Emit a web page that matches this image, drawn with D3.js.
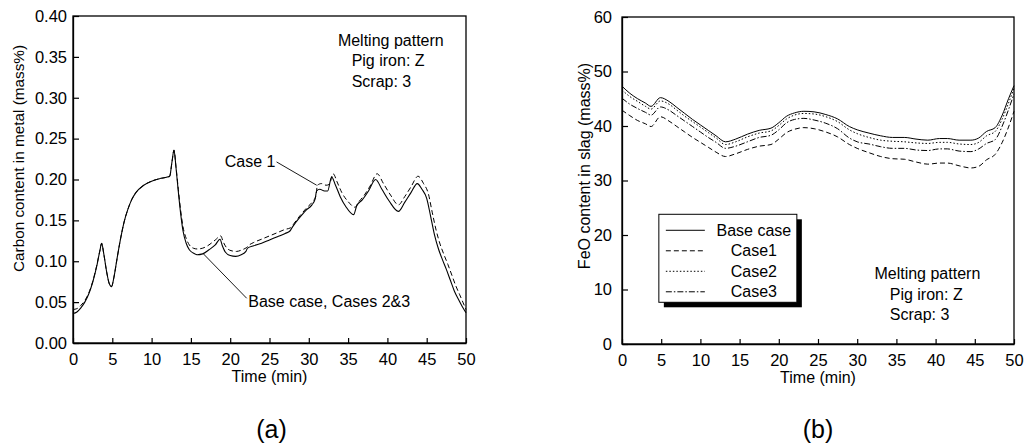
<!DOCTYPE html>
<html>
<head>
<meta charset="utf-8">
<script src="https://cdn.jsdelivr.net/npm/d3@7"></script>
<style>
  body { margin: 0; background: #fff; }
  svg text { font-family: "Liberation Sans", Arial, sans-serif; fill: #000; }
</style>
</head>
<body>
<div class="chart"></div>
<script>
// ---- panel (a): carbon content in metal ----
var timeBase = [0,0.5,1,1.5,2,2.5,3,3.4,3.65,3.9,
  4.3,4.6,4.9,5.2,5.6,6,6.5,7,7.5,8,
  9,10,11,12,12.3,12.6,12.85,13.1,13.4,13.7,
  14,14.4,14.8,15.3,15.8,16.5,17.3,18.1,18.7,19.0,
  19.4,20.0,20.7,21.4,22.0,22.2,23.0,24.0,25.0,26.0,
  27.0,27.6,28.0,28.8,29.6,30.4,30.8,31.0,31.4,32.0,
  32.4,32.9,33.4,34.0,34.7,35.7,36.1,36.8,37.6,38.5,
  39.3,40.2,41.4,42.2,43.0,43.8,44.4,45.0,45.5,46.0,
  46.5,47,47.5,48,48.5,49,49.5,50];
var carbonBase = [0.036,0.038,0.043,0.050,0.060,0.074,0.093,0.112,0.122,0.110,
  0.086,0.073,0.069,0.080,0.103,0.125,0.148,0.164,0.176,0.184,
  0.193,0.198,0.201,0.203,0.204,0.222,0.236,0.215,0.185,0.158,
  0.137,0.122,0.114,0.110,0.108,0.109,0.114,0.120,0.127,0.119,
  0.111,0.107,0.106,0.108,0.112,0.116,0.119,0.122,0.126,0.130,
  0.134,0.137,0.143,0.153,0.162,0.169,0.176,0.186,0.188,0.186,
  0.186,0.203,0.193,0.179,0.167,0.157,0.168,0.175,0.186,0.200,
  0.188,0.174,0.161,0.172,0.184,0.195,0.188,0.177,0.155,0.132,
  0.115,0.102,0.090,0.077,0.064,0.054,0.045,0.037];

var timeCase1 = [0,0.5,1,1.5,2,2.5,3,3.4,3.65,3.9,
  4.3,4.6,4.9,5.2,5.6,6,6.5,7,7.5,8,
  9,10,11,12,12.3,12.6,12.85,13.1,13.4,13.7,
  14,14.4,14.8,15.3,15.8,16.5,17.3,18.1,18.8,19.1,
  19.5,20.1,20.8,21.5,22.1,22.3,23.0,24.0,25.0,26.0,
  27.0,27.7,28.1,28.9,29.7,30.4,30.9,31.1,31.6,32.2,
  32.6,33.1,33.6,34.2,35.0,35.9,36.3,37.0,37.8,38.7,
  39.5,40.4,41.4,42.2,43.0,43.9,44.6,45.2,45.7,46.2,
  46.7,47.2,47.7,48.2,48.7,49.2,49.6,50.0];
var carbonCase1 = [0.041,0.042,0.046,0.052,0.061,0.075,0.094,0.112,0.122,0.110,
  0.086,0.073,0.069,0.080,0.103,0.125,0.148,0.164,0.176,0.184,
  0.193,0.198,0.201,0.203,0.204,0.222,0.236,0.216,0.188,0.162,
  0.142,0.128,0.120,0.116,0.115,0.116,0.120,0.126,0.131,0.124,
  0.117,0.113,0.112,0.114,0.117,0.119,0.123,0.127,0.131,0.135,
  0.139,0.141,0.146,0.156,0.165,0.172,0.180,0.193,0.195,0.193,
  0.194,0.207,0.197,0.184,0.173,0.166,0.172,0.180,0.192,0.207,
  0.195,0.181,0.169,0.179,0.191,0.204,0.195,0.183,0.160,0.138,
  0.121,0.108,0.096,0.083,0.070,0.059,0.050,0.041];

var carbonTicks = [0,0.05,0.10,0.15,0.20,0.25,0.30,0.35,0.40];

// ---- panel (b): FeO content in slag ----
var timeSlag = [0,1,2,3,3.7,4.9,6,7,8,9,
  10,11,12,13.2,14.5,16,17.5,19,20,21,
  22,23.2,24.5,26,27.5,29,30,31.5,33,34.5,
  36,37.5,39,40.5,41.5,43,44.5,45.5,46.5,47.6,
  48.5,49.3,50];
var feoBase = [47.3,46.0,45.0,44.2,43.6,45.2,44.5,43.4,42.3,41.2,
  40.2,39.2,38.2,37.1,37.6,38.5,39.2,39.6,40.6,41.8,
  42.4,42.7,42.6,42.1,41.3,39.9,39.3,38.7,38.2,37.9,
  37.9,37.6,37.4,37.7,37.7,37.4,37.4,37.8,39.0,39.7,
  42.0,45.0,47.4];
var feoCase1 = [42.9,41.9,41.0,40.4,39.9,41.7,40.9,39.9,38.9,37.9,
  37.0,36.1,35.2,34.4,34.9,35.7,36.3,36.6,37.6,38.8,
  39.4,39.7,39.5,38.9,38.0,36.6,35.9,35.1,34.4,34.0,
  33.9,33.4,33.0,33.2,33.2,32.7,32.3,32.6,33.8,34.8,
  37.0,39.8,42.7];
var feoCase2 = [46.6,45.4,44.5,43.6,43.1,44.6,44.0,42.9,41.8,40.8,
  39.8,38.8,37.8,36.6,37.1,38.0,38.7,39.1,40.1,41.3,
  42.0,42.3,42.2,41.7,40.8,39.3,38.6,37.9,37.4,37.2,
  37.1,36.9,36.8,37.0,37.0,36.7,36.6,37.0,38.2,39.0,
  41.3,44.2,46.9];
var feoCase3 = [45.1,44.0,43.2,42.5,42.0,43.5,42.9,41.9,40.9,39.9,
  38.9,37.9,37.0,35.9,36.3,37.1,37.9,38.3,39.3,40.6,
  41.2,41.4,41.1,40.5,39.5,37.8,37.1,36.7,36.2,35.9,
  35.9,35.6,35.5,35.8,35.8,35.4,35.3,35.8,36.8,37.5,
  40.0,43.0,45.9];

var feoTicks = [0,10,20,30,40,50,60];
var timeTicks = [0,5,10,15,20,25,30,35,40,45,50];

var legendNames = ["Base case", "Case1", "Case2", "Case3"];
var noteLines = ["Melting pattern", "Pig iron: Z", "Scrap: 3"];

var dashes = {
  solid: null,
  dashed: "5,3",
  dotted: "1.5,2",
  dashdot: "6,2,1.5,2"
};

var fs = "16px",
    tickFs = "16.5px";

var svg = d3.select(".chart").append("svg")
  .attr("width", 1024)
  .attr("height", 446);

var line = function(x, y) {
  return d3.line()
    .x(function(d) { return x(d[0]); })
    .y(function(d) { return y(d[1]); })
    .curve(d3.curveMonotoneX);
};

function drawFrame(g, x, y, yTicks, yFmt, yPad, w, h) {
  g.append("rect")
    .attr("width", w).attr("height", h)
    .attr("fill", "none").attr("stroke", "#000").attr("stroke-width", 1.3);

  var xa = g.append("g")
    .attr("transform", "translate(0," + h + ")")
    .call(d3.axisBottom(x).tickValues(timeTicks).tickSizeInner(-5).tickSizeOuter(0).tickPadding(10));
  var ya = g.append("g")
    .call(d3.axisLeft(y).tickValues(yTicks).tickFormat(yFmt).tickSizeInner(-6).tickSizeOuter(0).tickPadding(yPad));
  [xa, ya].forEach(function(a) {
    a.select(".domain").attr("stroke", "#000").attr("stroke-width", 1.3);
    a.selectAll(".tick line").attr("stroke", "#000").attr("stroke-width", 1.2);
    a.selectAll("text").style("font-size", tickFs).attr("fill", "#000");
  });
}

function zip(a, b) { return a.map(function(v, i) { return [v, b[i]]; }); }

// ===== panel (a) =====
var A = {left: 73, top: 16, w: 393, h: 327};
var ga = svg.append("g").attr("transform", "translate(" + A.left + "," + A.top + ")");
var xA = d3.scaleLinear().domain([0, 50]).range([0, A.w]);
var yA = d3.scaleLinear().domain([0, 0.4]).range([A.h, 0]);

drawFrame(ga, xA, yA, carbonTicks, d3.format(".2f"), 6, A.w, A.h);

ga.append("path").datum(zip(timeCase1, carbonCase1))
  .attr("d", line(xA, yA))
  .attr("fill", "none").attr("stroke", "#000").attr("stroke-width", 1)
  .attr("stroke-dasharray", dashes.dashed);
ga.append("path").datum(zip(timeBase, carbonBase))
  .attr("d", line(xA, yA))
  .attr("fill", "none").attr("stroke", "#000").attr("stroke-width", 1.1);

// leader lines and labels (data units)
var case1Leader = [[25.9, 0.2215], [31.0, 0.193]];
var baseLeader = [[22.1, 0.0547], [16.6, 0.109]];
var straight = d3.line().x(function(d) { return xA(d[0]); }).y(function(d) { return yA(d[1]); });
ga.append("path").datum(case1Leader).attr("d", straight)
  .attr("stroke", "#000").attr("stroke-width", 0.9).attr("fill", "none");
ga.append("path").datum(baseLeader).attr("d", straight)
  .attr("stroke", "#000").attr("stroke-width", 0.9).attr("fill", "none");
ga.append("text").attr("x", xA(25.75)).attr("y", yA(0.2215) + 5.5)
  .attr("text-anchor", "end").style("font-size", fs).text("Case 1");
ga.append("text").attr("x", xA(22.3)).attr("y", yA(0.0435))
  .style("font-size", fs).text("Base case, Cases 2&3");

ga.selectAll(".note").data(noteLines).enter().append("text")
  .attr("class", "note")
  .attr("x", function(d, i) { return i === 0 ? xA(33.7) : xA(35.45); })
  .attr("y", function(d, i) { return yA(0.3637) + i * 20.5; })
  .style("font-size", fs)
  .text(function(d) { return d; });

ga.append("text")
  .attr("x", A.w / 2).attr("y", A.h + 39)
  .attr("text-anchor", "middle").style("font-size", fs).text("Time (min)");
ga.append("text")
  .attr("transform", "translate(" + (-49) + "," + (A.h / 2 - 21) + ") rotate(-90)")
  .attr("text-anchor", "middle").style("font-size", "15.3px")
  .text("Carbon content in metal (mass%)");
ga.append("text")
  .attr("x", A.w / 2 + 2).attr("y", A.h + 95)
  .attr("text-anchor", "middle").style("font-size", "25px").text("(a)");

// ===== panel (b) =====
var B = {left: 622, top: 17, w: 392, h: 327};
var gb = svg.append("g").attr("transform", "translate(" + B.left + "," + B.top + ")");
var xB = d3.scaleLinear().domain([0, 50]).range([0, B.w]);
var yB = d3.scaleLinear().domain([0, 60]).range([B.h, 0]);

drawFrame(gb, xB, yB, feoTicks, d3.format("d"), 10, B.w, B.h);

var slagSeries = [
  {name: "Base case", values: feoBase, dash: dashes.solid},
  {name: "Case1", values: feoCase1, dash: dashes.dashed},
  {name: "Case2", values: feoCase2, dash: dashes.dotted},
  {name: "Case3", values: feoCase3, dash: dashes.dashdot}
];

gb.selectAll(".series").data(slagSeries).enter().append("path")
  .attr("class", "series")
  .attr("d", function(s) { return line(xB, yB)(zip(timeSlag, s.values)); })
  .attr("fill", "none").attr("stroke", "#000").attr("stroke-width", 1)
  .attr("stroke-dasharray", function(s) { return s.dash; });

// legend
var lg = gb.append("g").attr("transform", "translate(" + xB(4.7) + "," + yB(23.8) + ")");
lg.append("rect").attr("x", 5).attr("y", 5).attr("width", 138).attr("height", 88).attr("fill", "#000");
lg.append("rect").attr("width", 138).attr("height", 88)
  .attr("fill", "#fff").attr("stroke", "#000").attr("stroke-width", 1);
var rows = lg.selectAll(".row").data(slagSeries).enter().append("g")
  .attr("class", "row")
  .attr("transform", function(d, i) { return "translate(0," + (16 + i * 20.5) + ")"; });
rows.append("line").attr("x1", 7).attr("x2", 46)
  .attr("stroke", "#000").attr("stroke-width", 1)
  .attr("stroke-dasharray", function(d) { return d.dash; });
rows.append("text").attr("x", 95).attr("y", 5.5)
  .attr("text-anchor", "middle").style("font-size", fs)
  .text(function(d, i) { return legendNames[i]; });

gb.selectAll(".note").data(noteLines).enter().append("text")
  .attr("class", "note")
  .attr("x", function(d, i) { return i === 0 ? xB(32.2) : xB(34.15); })
  .attr("y", function(d, i) { return yB(11.9) + i * 20.5; })
  .style("font-size", fs)
  .text(function(d) { return d; });

gb.append("text")
  .attr("x", B.w / 2).attr("y", B.h + 39)
  .attr("text-anchor", "middle").style("font-size", fs).text("Time (min)");
gb.append("text")
  .attr("transform", "translate(" + (-32) + "," + (B.h / 2 - 14.5) + ") rotate(-90)")
  .attr("text-anchor", "middle").style("font-size", "16px")
  .text("FeO content in slag (mass%)");
gb.append("text")
  .attr("x", B.w / 2).attr("y", B.h + 94)
  .attr("text-anchor", "middle").style("font-size", "25px").text("(b)");
</script>
</body>
</html>
